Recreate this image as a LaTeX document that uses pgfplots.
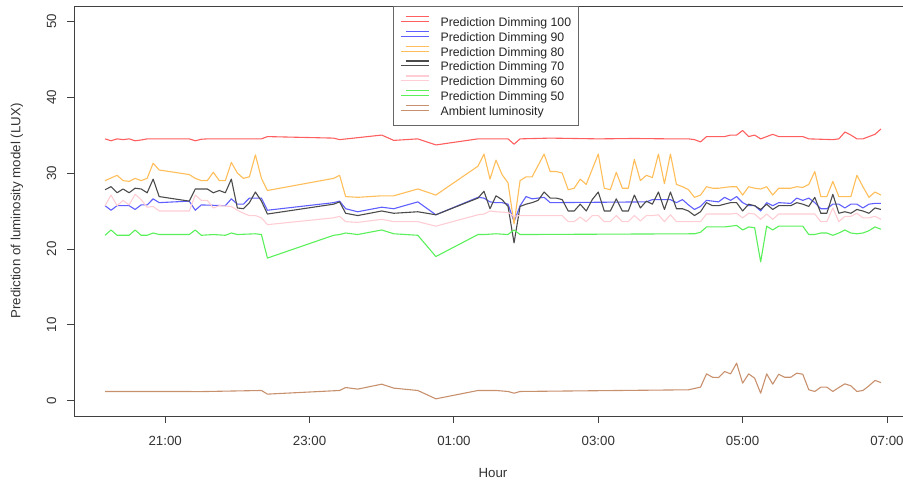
\documentclass[border=0pt]{standalone}
\usepackage{fontspec}
\setmainfont{Liberation Sans}
\usepackage{graphicx}
\usepackage{pgfplots}
\pgfplotsset{compat=1.18}
\definecolor{cred}{RGB}{255,95,95}
\definecolor{cblue}{RGB}{95,95,255}
\definecolor{corange}{RGB}{255,190,90}
\definecolor{cdark}{RGB}{75,75,75}
\definecolor{cpink}{RGB}{255,205,212}
\definecolor{cgreen}{RGB}{90,240,90}
\definecolor{cbrown}{RGB}{200,145,110}
\begin{document}
\begin{tikzpicture}
\useasboundingbox (-74pt,-65pt) rectangle (829pt,416pt);
\begin{axis}[
 scale only axis, width=838pt, height=410pt,
 xmin=-15.8, xmax=680.8, ymin=-2, ymax=52,
 axis line style={black!75, line width=0.9pt},
 xtick={60,180,300,420,540,660},
 xticklabels={21:00,23:00,01:00,03:00,05:00,07:00},
 ytick={0,10,20,30,40,50},
 yticklabel={\rotatebox{90}{\pgfmathprintnumber{\tick}}},
 tick align=outside, xtick pos=lower, ytick pos=left,
 major tick length=7pt,
 tick style={black!75, line width=0.9pt},
 ticklabel style={font=\fontsize{13.3}{16}\selectfont, text=black!80},
 xticklabel style={anchor=center, yshift=-18pt},
 yticklabel style={anchor=center, xshift=-15.5pt},
 /pgf/number format/assume math mode=true,
 every axis x label/.style={at={(rel axis cs:0.5,-0.139)}, anchor=center, font=\fontsize{13.3}{16}\selectfont, text=black!80},
 every axis y label/.style={at={(rel axis cs:-0.068,0.5)}, rotate=90, anchor=center, font=\fontsize{13.3}{16}\selectfont, text=black!80},
 xlabel={Hour}, ylabel={Prediction of luminosity model (LUX)},
 legend style={at={(0.3807,1)}, anchor=north west, draw=black!60, line width=0.8pt, fill=white,
   inner xsep=7pt, inner ysep=7.7pt, font=\fontsize{12.3}{14}\selectfont, text=black!85,
   column sep=11pt, row sep=0pt,
   nodes={inner sep=0pt, text height=12.3pt, text depth=2.5pt}},
 legend cell align=left,
 legend image code/.code={\path (0pt,0pt) -- (28pt,0pt); \draw[#1, line width=1.2pt] (5pt,4.8pt) -- (28pt,4.8pt);},
 every axis plot/.append style={line width=1.1pt, line join=round},
]
\addplot[draw=cred] coordinates {(10,34.5) (15,34.25) (20,34.5) (25,34.4) (30,34.5) (35,34.25) (40,34.35) (45,34.5) (50,34.5) (55,34.5) (80,34.5) (85,34.25) (90,34.45) (95,34.5) (140,34.5) (145,34.8) (200,34.6) (205,34.4) (240,35.0) (250,34.3) (270,34.5) (285,33.7) (320,34.5) (345,34.5) (350,33.8) (355,34.5) (380,34.6) (420,34.5) (450,34.55) (480,34.5) (495,34.5) (500,34.4) (505,34.1) (510,34.8) (525,34.8) (530,35.0) (535,35.0) (540,35.6) (545,34.8) (550,35.0) (555,34.5) (560,34.8) (565,35.1) (570,34.8) (590,34.8) (595,34.5) (615,34.4) (620,34.5) (625,35.4) (630,35.0) (635,34.5) (640,34.5) (645,34.8) (650,35.1) (655,35.8)};
\addlegendentry{Prediction Dimming 100}
\addplot[draw=cblue] coordinates {(10,25.7) (15,25.1) (20,25.7) (30,25.7) (35,25.2) (40,25.8) (45,25.8) (50,26.6) (55,26.1) (80,26.3) (85,25.1) (90,25.8) (110,25.7) (115,26.6) (120,25.9) (125,25.9) (130,26.7) (140,26.7) (145,25.1) (200,26.1) (205,26.3) (210,25.3) (220,24.9) (240,25.5) (250,25.3) (270,26.2) (285,24.5) (320,26.8) (325,26.7) (330,26.2) (335,26.1) (340,26.1) (345,25.9) (350,23.6) (355,25.7) (360,26.9) (365,26.6) (370,26.7) (375,26.8) (380,26.1) (460,26.2) (465,26.5) (480,26.5) (485,26.1) (490,26.5) (495,25.8) (500,25.2) (505,25.6) (510,26.4) (520,26.2) (525,26.8) (530,26.4) (535,26.9) (540,26.1) (545,25.7) (550,25.7) (555,25.0) (560,26.1) (565,25.7) (570,26.1) (580,26.0) (585,26.7) (590,26.4) (595,26.7) (600,26.1) (605,25.3) (610,25.3) (615,25.9) (620,25.9) (625,25.4) (630,25.9) (635,25.9) (640,25.4) (645,25.9) (650,26.0) (655,26.0)};
\addlegendentry{Prediction Dimming 90}
\addplot[draw=corange] coordinates {(10,29.0) (15,29.35) (20,29.7) (25,29.0) (30,28.9) (35,29.3) (40,29.0) (45,29.3) (50,31.3) (55,30.4) (80,29.8) (85,29.3) (90,29.0) (95,29.0) (100,30.1) (105,29.0) (110,29.0) (115,31.4) (120,30.0) (125,29.3) (130,29.5) (135,32.4) (140,29.3) (145,27.7) (200,29.3) (205,29.7) (210,26.9) (220,26.8) (240,27.0) (250,27.0) (270,27.9) (285,27.1) (320,30.9) (325,32.5) (330,29.2) (335,31.7) (340,29.8) (345,28.7) (350,23.3) (355,29.0) (360,29.5) (365,29.5) (375,32.5) (380,30.2) (385,30.2) (390,30.0) (395,27.8) (400,28.0) (405,29.2) (410,28.5) (420,32.5) (425,28.0) (430,27.8) (435,30.1) (440,28.0) (445,28.0) (450,31.8) (455,29.0) (460,29.7) (465,29.4) (470,32.5) (475,28.6) (480,32.5) (485,28.5) (490,28.2) (495,27.8) (500,26.8) (505,27.1) (510,28.2) (515,28.0) (520,28.0) (525,28.1) (530,28.2) (535,28.2) (540,27.1) (545,28.2) (550,28.0) (555,27.9) (560,28.2) (565,27.1) (570,28.0) (580,28.0) (585,28.2) (590,28.1) (595,28.5) (600,30.2) (605,26.9) (610,26.9) (615,28.9) (620,26.9) (630,26.9) (635,29.7) (640,28.2) (645,26.8) (650,27.5) (655,27.1)};
\addlegendentry{Prediction Dimming 80}
\addplot[draw=cdark] coordinates {(10,27.8) (15,28.2) (20,27.4) (25,27.9) (30,27.4) (35,28.0) (40,27.9) (45,27.4) (50,29.2) (55,26.9) (80,26.3) (85,27.9) (95,27.9) (100,27.4) (105,27.7) (110,27.4) (115,29.2) (120,25.4) (125,25.3) (130,26.1) (135,27.5) (140,26.3) (145,24.6) (200,25.9) (205,26.2) (210,24.7) (220,24.4) (240,25.0) (250,24.7) (270,24.9) (285,24.5) (320,26.7) (325,27.6) (330,25.3) (335,27.0) (340,26.5) (345,25.6) (350,20.8) (355,25.6) (360,25.9) (365,26.1) (370,26.4) (375,27.5) (380,26.7) (385,26.7) (390,26.5) (395,25.0) (400,25.0) (405,25.9) (410,25.0) (415,26.5) (420,27.5) (425,25.0) (430,25.0) (435,26.6) (440,25.0) (445,25.0) (450,27.1) (455,25.4) (460,26.3) (465,25.9) (470,27.5) (475,25.2) (480,27.5) (485,25.3) (490,25.3) (495,25.0) (500,24.4) (505,24.9) (510,26.1) (515,25.7) (520,25.7) (525,25.9) (530,26.1) (535,26.1) (540,25.0) (545,25.9) (550,25.7) (555,25.2) (560,25.9) (565,25.2) (570,25.7) (580,25.7) (585,26.1) (590,25.9) (595,25.6) (600,26.8) (605,24.7) (610,24.7) (615,27.2) (620,24.7) (625,24.9) (630,24.7) (635,25.2) (640,25.0) (645,24.7) (650,25.4) (655,25.2)};
\addlegendentry{Prediction Dimming 70}
\addplot[draw=cpink] coordinates {(10,25.7) (15,27.1) (20,25.7) (25,26.4) (30,25.8) (35,27.2) (40,26.5) (45,25.5) (50,25.6) (55,25.0) (80,25.0) (85,27.1) (90,26.4) (95,26.4) (100,25.4) (105,25.7) (115,25.6) (120,25.1) (125,24.7) (130,24.4) (135,24.4) (140,24.1) (145,23.2) (200,24.1) (205,24.3) (210,23.6) (220,23.5) (240,23.9) (250,23.6) (270,23.6) (285,23.0) (320,24.5) (325,24.6) (330,25.0) (335,24.9) (345,24.8) (350,24.3) (355,24.4) (390,24.4) (395,23.6) (400,23.6) (405,24.2) (410,23.6) (415,24.4) (420,24.4) (425,23.6) (430,23.6) (435,24.4) (440,23.6) (445,23.6) (450,24.4) (455,23.7) (460,24.4) (465,24.4) (470,24.5) (475,23.6) (480,24.5) (485,23.6) (505,23.6) (510,24.6) (530,24.6) (535,24.7) (540,24.1) (545,24.7) (550,24.6) (555,23.9) (560,24.6) (565,23.9) (570,24.6) (600,24.6) (605,23.6) (610,23.6) (615,25.4) (620,23.6) (625,24.3) (630,24.3) (635,24.7) (640,24.1) (645,24.1) (650,24.3) (655,23.9)};
\addlegendentry{Prediction Dimming 60}
\addplot[draw=cgreen] coordinates {(10,21.8) (15,22.5) (20,21.8) (30,21.8) (35,22.5) (40,21.8) (45,21.8) (50,22.1) (55,21.9) (80,21.9) (85,22.5) (90,21.8) (100,21.9) (110,21.8) (115,22.1) (120,21.9) (135,22.0) (140,21.9) (145,18.8) (200,21.8) (205,21.9) (210,22.1) (220,21.9) (240,22.5) (250,22.0) (270,21.8) (285,19.0) (320,21.9) (325,21.9) (335,22.0) (345,21.9) (350,22.5) (355,21.9) (500,22.0) (505,22.2) (510,22.9) (525,22.9) (530,23.0) (535,23.1) (540,22.5) (545,22.9) (550,22.8) (555,18.3) (560,23.0) (565,22.5) (570,23.0) (590,23.0) (595,21.9) (600,21.9) (605,22.1) (610,22.1) (615,21.8) (620,22.1) (625,22.5) (630,22.1) (635,22.0) (640,22.1) (645,22.4) (650,22.9) (655,22.6)};
\addlegendentry{Prediction Dimming 50}
\addplot[draw=cbrown] coordinates {(10,1.23) (80,1.23) (85,1.2) (140,1.36) (145,0.88) (205,1.36) (210,1.75) (220,1.54) (240,2.19) (250,1.67) (270,1.36) (285,0.26) (320,1.36) (335,1.36) (345,1.23) (350,1.0) (355,1.23) (495,1.45) (505,1.8) (510,3.55) (515,3.1) (520,3.07) (525,3.86) (530,3.55) (535,4.96) (540,2.32) (545,3.55) (550,2.98) (555,1.0) (560,3.55) (565,2.19) (570,3.5) (575,3.1) (580,3.1) (585,3.64) (590,3.5) (595,1.45) (600,1.23) (605,1.8) (610,1.8) (615,1.23) (620,1.75) (625,2.24) (630,1.97) (635,1.23) (640,1.36) (645,1.97) (650,2.68) (655,2.41)};
\addlegendentry{Ambient luminosity}
\end{axis}
\end{tikzpicture}
\end{document}
